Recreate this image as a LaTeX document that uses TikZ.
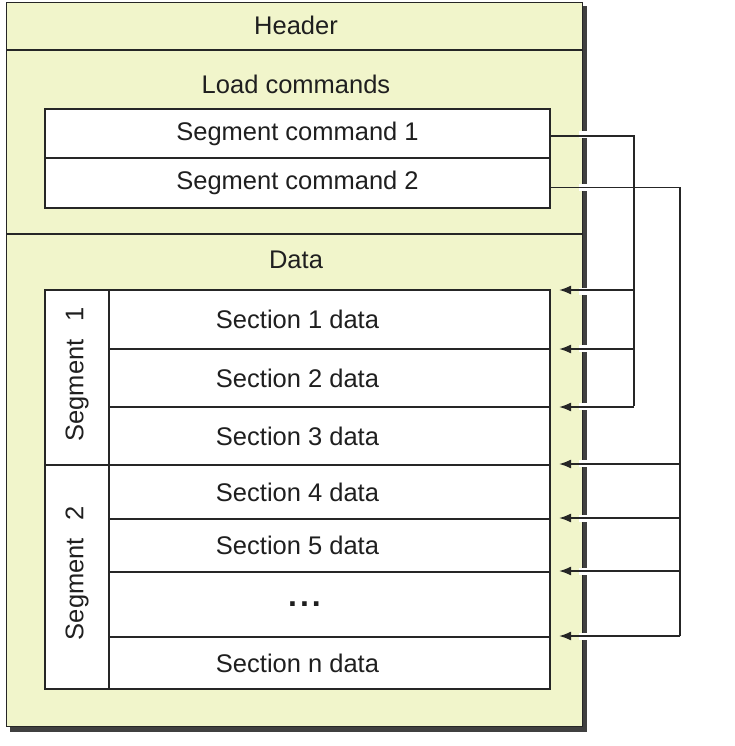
\documentclass[tikz,border=0pt]{standalone}
\usepackage{fontspec}
\setmainfont{Liberation Sans}
\usetikzlibrary{arrows.meta,calc}
\definecolor{pale}{HTML}{F1F5CB}
\begin{document}
\begin{tikzpicture}[x=1pt,y=-1pt,
  lbl/.style={font=\fontsize{25.5}{27}\selectfont, inner sep=0pt, text=black!88},
  cell/.style={draw=black!85, line width=2pt, fill=white, minimum width=505pt,
    anchor=north west, font=\fontsize{25.5}{27}\selectfont, text=black!88, inner sep=0pt},
  segbox/.style={draw=black!85, line width=2pt, fill=white, minimum width=64pt,
    anchor=north west, inner sep=0pt},
  conn/.style={draw=black!85, line width=1.8pt},
  arr/.style={conn, -{Latex[length=12pt,width=9pt]}}]
\useasboundingbox (0,0) rectangle (734,746);
\fill[white] (0,0) rectangle (734,746);
% outer box with shadow
\fill[black!75] (10,6) rectangle (587,732);
\node[draw=black!85, line width=1.4pt, fill=pale, minimum width=576pt, minimum height=724pt,
  anchor=north west, inner sep=0pt] (outer) at (6,2) {};
\draw[black!85, line width=1.8pt] (6,50) -- (582,50);
\draw[black!85, line width=1.8pt] (6,234) -- (582,234);
\node[lbl] (hdr) at (296,25) {Header};
\node[lbl] (ldc) at (296,84) {Load commands};
\node[lbl] (dat) at (296,260) {Data};
% segment commands
\node[cell, minimum height=49pt] (sc1) at (44,108) {Segment command 1};
\node[cell, minimum height=50pt] (sc2) at (44,157) {Segment command 2};
% section rows
\node[cell, minimum height=59pt] (r1) at (44,289) {Section 1 data};
\node[cell, minimum height=58pt] (r2) at (44,348) {Section 2 data};
\node[cell, minimum height=58pt] (r3) at (44,406) {Section 3 data};
\node[cell, minimum height=54pt] (r4) at (44,464) {Section 4 data};
\node[cell, minimum height=53pt] (r5) at (44,518) {Section 5 data};
\node[cell, minimum height=65pt] (r6) at (44,571) {};
\node[lbl, font=\fontsize{32}{32}\bfseries] (dots) at ($(r6.center)+(7,0)$) {.\hspace{3pt}.\hspace{3pt}.};
\node[cell, minimum height=52pt] (r7) at (44,636) {Section n data};
% segment columns
\node[segbox, minimum height=175pt] (seg1) at (44,289) {};
\node[segbox, minimum height=224pt] (seg2) at (44,464) {};
\node[lbl, rotate=90] (seg1t) at ($(seg1.center)+(0,-3)$) {Segment\hspace{0.7em}1};
\node[lbl, rotate=90] (seg2t) at ($(seg2.center)+(0,-4)$) {Segment\hspace{0.7em}2};
% gaps in the outer border where connectors cross
\foreach \yy in {135,187,291,348,406,463,518,571,636}
  \fill[white] (579,\yy-3.5) rectangle (588,\yy+3.5);
% connectors from segment command 1
\coordinate (s1o) at ($(sc1.east)+(0,2.5)$);
\coordinate (s2o) at ($(sc2.east)+(0,4.5)$);
\draw[conn] (s1o) -| ($(r3.north east)+(83,0)$);
\foreach \r in {r1,r2,r3}
  \draw[arr] ($(\r.north east)+(83,1)$) -- ($(\r.north east)+(8,1)$);
% connectors from segment command 2
\draw[conn] (s2o) -| ($(r7.north east)+(129,0)$);
\foreach \r in {r4,r5,r6,r7}
  \draw[arr] ($(\r.north east)+(129,0)$) -- ($(\r.north east)+(8,0)$);
\end{tikzpicture}
\end{document}
